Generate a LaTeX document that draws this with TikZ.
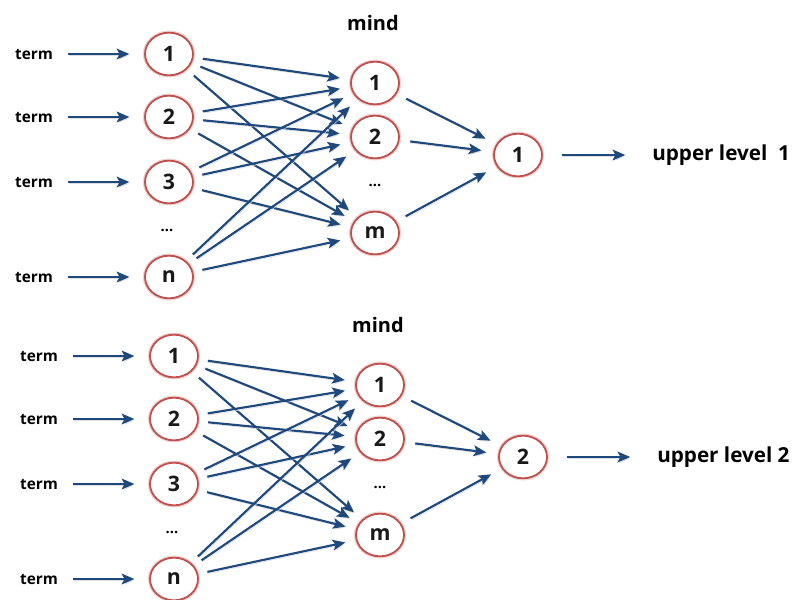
\documentclass[tikz,border=0pt]{standalone}
\usepackage{fontspec}
\setmainfont{Open Sans}
\usetikzlibrary{arrows.meta,shapes.geometric}

\definecolor{arrowblue}{HTML}{1F497D}
\definecolor{ringred}{HTML}{C0504D}

\tikzset{
  neuron/.style={ellipse, draw=ringred, line width=1.35pt, fill=white,
    minimum width=36pt, minimum height=32pt, inner sep=0pt,
    font=\fontsize{16}{16}\selectfont\bfseries, text=black!90,
    preaction={draw=ringred!25, line width=3.2pt}},
  termlabel/.style={font=\fontsize{11.5}{12}\selectfont\bfseries, inner sep=0pt},
  layerlabel/.style={font=\fontsize{15}{16}\selectfont\bfseries, inner sep=0pt},
  outlabel/.style={font=\fontsize{15.5}{16}\selectfont\bfseries, inner sep=0pt, anchor=west},
  ellipsis/.style={font=\fontsize{11}{12}\selectfont\bfseries, inner sep=0pt},
  link/.style={draw=arrowblue, line width=1.6pt,
    -{Stealth[length=9.5pt,width=8pt,inset=2pt]},
    preaction={draw=black!13, transform canvas={shift={(0.7pt,-1.3pt)}}}},
}

% one two-layer network feeding an upper-level unit
\newcommand\netblock[4]{%
  \begin{scope}[shift={#2}]
    \node[layerlabel] (#1mind) at (373,23) {mind};
    % input column
    \foreach \k/\y/\t in {1/54/1, 2/117/2, 3/182/3, n/277/n} {
      \node[termlabel] (#1t\k) at (34,\y) {term};
      \node[neuron] (#1i\k) at (169,\y) {\t};
      \draw[link, shorten <=11pt, shorten >=11pt] (#1t\k) -- (#1i\k);
    }
    \node[ellipsis] (#1idots) at (167,230) {...};
    % hidden column
    \foreach \k/\y/\t in {1/83/1, 2/137/2, m/233/m}
      \node[neuron] (#1m\k) at (375,\y) {\t};
    \node[ellipsis] (#1mdots) at (375,185) {...};
    % output unit
    \node[neuron] (#1out) at (518,155) {#3};
    \node[outlabel] (#1up) at (652,155) {#4};
    % fully connected input -> hidden
    \foreach \a in {1,2,3,n}
      \foreach \b in {1,2,m}
        \draw[link, shorten <=7pt, shorten >=8pt] (#1i\a) -- (#1m\b);
    % hidden -> output
    \foreach \b in {1,2,m}
      \draw[link, shorten <=8pt, shorten >=9pt] (#1m\b) -- (#1out);
    \draw[link, shorten <=14pt, shorten >=20pt] (#1out) -- (#1up);
  \end{scope}}

\begin{document}
\begin{tikzpicture}[x=0.75pt, y=-0.75pt]
  \useasboundingbox (0,0) rectangle (793,600);
  \fill[white] (0,0) rectangle (793,600);
  \netblock{a}{(0,0)}{1}{upper level\ \ 1}
  \netblock{b}{(5,302)}{2}{upper level 2}
\end{tikzpicture}
\end{document}
